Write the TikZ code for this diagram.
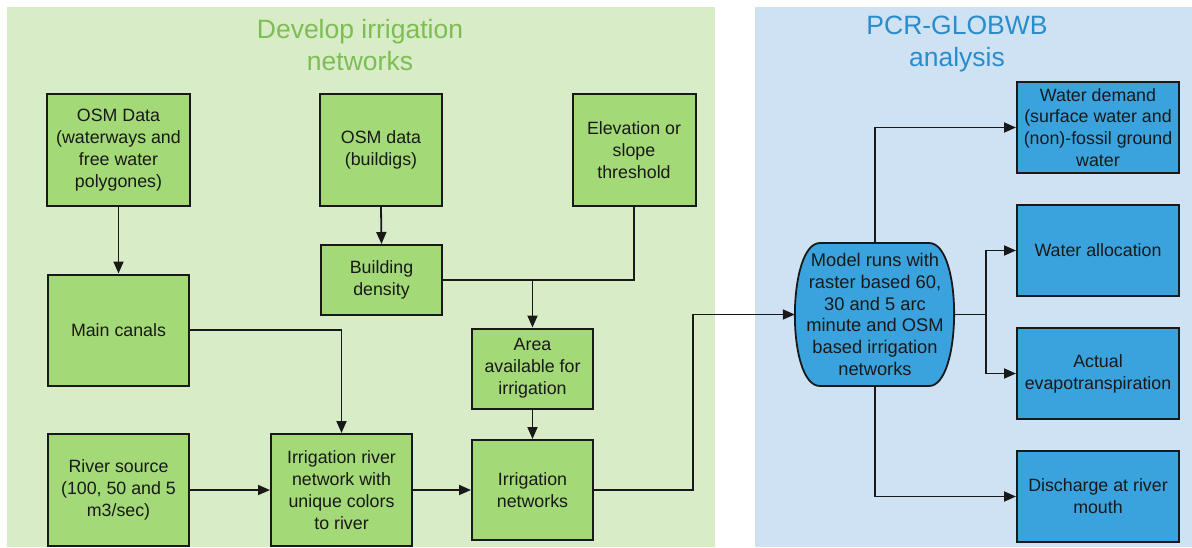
\documentclass[tikz,border=0pt]{standalone}
\usepackage{fontspec}
\setmainfont{Liberation Sans}
\usetikzlibrary{arrows.meta}
\definecolor{greenpanel}{RGB}{217,236,200}
\definecolor{greenbox}{RGB}{163,217,119}
\definecolor{greentitle}{RGB}{124,190,84}
\definecolor{bluepanel}{RGB}{207,226,243}
\definecolor{bluebox}{RGB}{58,163,221}
\definecolor{bluetitle}{RGB}{41,141,204}
\definecolor{ink}{RGB}{25,25,25}
\tikzset{
  boxbase/.style={draw=ink, line width=2pt, rectangle, inner sep=0pt, align=center,
    text=ink, font=\fontsize{17.8}{21.8}\selectfont},
  gbox/.style={boxbase, fill=greenbox},
  bbox/.style={boxbase, fill=bluebox, minimum width=162pt, minimum height=91pt},
  titletext/.style={align=center, font=\fontsize{26.5}{32}\selectfont},
  arr/.style={draw=ink, line width=1.8pt, -{Triangle[length=12pt,width=10pt]}},
  ln/.style={draw=ink, line width=1.8pt},
}
\begin{document}
\begin{tikzpicture}[x=1pt, y=-1pt]
\useasboundingbox (0,0) rectangle (1192,547);
\fill[white] (0,0) rectangle (1192,547);

% panels
\fill[greenpanel] (7,7) rectangle (715,547);
\fill[bluepanel] (755,7) rectangle (1192,547);
\node[titletext, text=greentitle] (gtitle) at (360,45) {Develop irrigation\\networks};
\node[titletext, text=bluetitle] (btitle) at (957,44) {PCR-GLOBWB\\analysis};

% irrigation network development
\node[gbox, minimum width=143pt, minimum height=112pt] (osm) at (118.5,150)
  {OSM Data\\(waterways and\\free water\\polygones)};
\node[gbox, minimum width=122pt, minimum height=112pt] (bld) at (381,150)
  {OSM data\\(buildigs)};
\node[gbox, minimum width=123pt, minimum height=112pt] (elev) at (634,150)
  {Elevation or\\slope\\threshold};
\node[gbox, minimum width=121pt, minimum height=70pt] (dens) at (381.5,280)
  {Building\\density};
\node[gbox, minimum width=141pt, minimum height=111pt] (canals) at (118.5,330)
  {Main canals};
\node[gbox, minimum width=121pt, minimum height=80pt] (area) at (532.5,368.5)
  {Area\\available for\\irrigation};
\node[gbox, minimum width=141pt, minimum height=112pt] (river) at (118.5,490)
  {River source\\(100, 50 and 5\\m3/sec)};
\node[gbox, minimum width=141pt, minimum height=112pt] (irn) at (341.5,490)
  {Irrigation river\\network with\\unique colors\\to river};
\node[gbox, minimum width=121pt, minimum height=100pt] (irr) at (532.5,490)
  {Irrigation\\networks};

% model analysis: flat top and bottom, bulging sides
\fill[bluebox] (820,243) -- (929,243) .. controls (963,243) and (962,386) .. (929,386)
  -- (820,386) .. controls (786,386) and (787,243) .. (820,243) -- cycle;
\draw[ln] (820,243) -- (929,243) .. controls (963,243) and (962,386) .. (929,386)
  -- (820,386) .. controls (786,386) and (787,243) .. (820,243) -- cycle;
\node[rectangle, inner sep=0pt, minimum width=160pt, minimum height=143pt, align=center,
  text=ink, font=\fontsize{18.3}{21.8}\selectfont] (model) at (875,314.5)
  {Model runs with\\raster based 60,\\30 and 5 arc\\minute and OSM\\based irrigation\\networks};

\node[bbox] (wd) at (1098,127.5) {Water demand\\(surface water and\\(non)-fossil ground\\water};
\node[bbox] (wa) at (1098,250.5) {Water allocation};
\node[bbox] (ae) at (1098,373.5) {Actual\\evapotranspiration};
\node[bbox] (dis) at (1098,496.5) {Discharge at river\\mouth};

% junction points
\coordinate (jarea) at (532.5,280);
\coordinate (jout) at (693,490);
\coordinate (jsplit) at (986,314.5);

% connectors
\draw[arr] (osm.south) -- (canals.north);
\draw[arr] (bld.south) -- (dens.north);
\draw[ln] (elev.south) |- (jarea);
\draw[arr] (dens.east) -| (area.north);
\draw[arr] (canals.east) -| (irn.north);
\draw[arr] (area.south) -- (irr.north);
\draw[arr] (river.east) -- (irn.west);
\draw[arr] (irn.east) -- (irr.west);
\draw[arr] (irr.east) -- (jout) |- (model.west);
\draw[arr] (model.north) |- (wd.west);
\draw[ln] (model.east) -- (jsplit);
\draw[arr] (jsplit) |- (wa.west);
\draw[arr] (jsplit) |- (ae.west);
\draw[arr] (model.south) |- (dis.west);
\end{tikzpicture}
\end{document}
